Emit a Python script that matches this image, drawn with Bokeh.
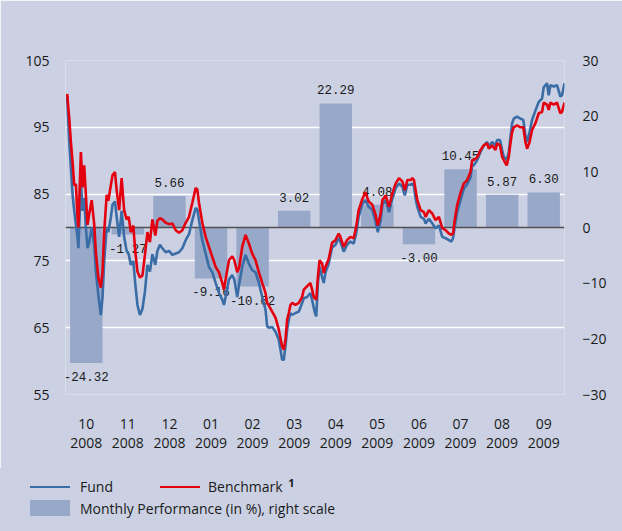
from bokeh.plotting import figure
from bokeh.layouts import column
from bokeh.models import Range1d, LinearAxis, FixedTicker, ColumnDataSource, Div
from bokeh.embed import file_html
from bokeh.resources import INLINE
from bokeh.core.properties import value

# ---------------- data ----------------
months = ["10", "11", "12", "01", "02", "03", "04", "05", "06", "07", "08", "09"]
years = ["2008", "2008", "2008", "2009", "2009", "2009", "2009", "2009", "2009", "2009", "2009", "2009"]
monthly_perf = [-24.32, -1.27, 5.66, -9.16, -10.62, 3.02, 22.29, 4.08, -3.00, 10.45, 5.87, 6.30]

# time position in months since start of Oct 2008
t = [0.04, 0.09, 0.13, 0.17, 0.21, 0.25, 0.29, 0.31, 0.37, 0.41, 0.45, 0.49, 0.53, 0.57, 0.63, 0.69,
     0.73, 0.79, 0.85, 0.89, 0.93, 0.99, 1.03, 1.09, 1.13, 1.19, 1.23, 1.29, 1.35, 1.41, 1.47, 1.52,
     1.57, 1.63, 1.68, 1.73, 1.79, 1.85, 1.91, 1.97, 2.03, 2.09, 2.16, 2.21, 2.27, 2.33, 2.41, 2.49,
     2.57, 2.65, 2.73, 2.81, 2.89, 2.97, 3.05, 3.13, 3.17, 3.21, 3.29, 3.37, 3.45, 3.53, 3.61, 3.69,
     3.77, 3.81, 3.85, 3.93, 4.01, 4.06, 4.13, 4.18, 4.25, 4.33, 4.41, 4.49, 4.57, 4.65, 4.73, 4.81,
     4.85, 4.89, 4.97, 5.05, 5.13, 5.21, 5.25, 5.29, 5.33, 5.37, 5.41, 5.45, 5.53, 5.61, 5.69, 5.73,
     5.81, 5.89, 5.93, 5.97, 6.00, 6.03, 6.07, 6.11, 6.17, 6.21, 6.25, 6.33, 6.41, 6.49, 6.57, 6.61,
     6.69, 6.77, 6.85, 6.93, 6.99, 7.05, 7.13, 7.21, 7.29, 7.38, 7.46, 7.51, 7.58, 7.62, 7.70, 7.78,
     7.86, 7.94, 8.02, 8.10, 8.16, 8.22, 8.30, 8.34, 8.38, 8.42, 8.46, 8.54, 8.62, 8.66, 8.74, 8.82,
     8.90, 8.98, 9.06, 9.14, 9.22, 9.28, 9.32, 9.36, 9.42, 9.50, 9.58, 9.66, 9.74, 9.78, 9.82, 9.90,
     9.98, 10.06, 10.14, 10.18, 10.26, 10.34, 10.38, 10.45, 10.50, 10.54, 10.61, 10.66, 10.70, 10.74,
     10.78, 10.86, 10.94, 11.01, 11.06, 11.10, 11.16, 11.22, 11.30, 11.38, 11.46, 11.50, 11.58, 11.62,
     11.66, 11.74, 11.82, 11.90, 11.94, 12.00]

benchmark = [100.0, 96.3, 92.8, 89.8, 86.3, 86.5, 81.4, 80.0, 91.3, 86.0, 89.3, 84.9, 80.4, 82.0, 84.1, 80.5,
             76.3, 72.5, 71.0, 73.4, 79.3, 84.9, 84.0, 86.3, 87.8, 88.3, 85.6, 82.6, 87.4, 82.6, 81.2, 81.6,
             79.3, 80.3, 76.3, 73.4, 72.5, 72.8, 75.9, 79.3, 77.8, 81.2, 78.8, 81.0, 81.4, 81.2, 80.7, 80.5,
             80.6, 79.6, 79.2, 79.6, 80.7, 81.6, 83.7, 85.9, 85.7, 83.7, 80.7, 78.6, 77.1, 75.6, 74.1, 73.3,
             71.7, 70.7, 72.2, 75.1, 75.7, 75.1, 73.3, 74.1, 77.1, 78.9, 77.6, 76.1, 75.1, 73.3, 71.7, 70.2,
             68.7, 68.3, 67.4, 66.5, 64.7, 62.2, 61.7, 63.2, 66.2, 67.2, 68.4, 68.7, 68.4, 68.7, 69.6, 70.7,
             71.2, 71.7, 70.7, 69.6, 69.4, 69.2, 72.6, 75.1, 74.6, 73.2, 74.1, 75.3, 77.7, 78.1, 79.1, 78.6,
             77.1, 78.1, 78.6, 78.4, 80.1, 82.6, 84.1, 85.3, 83.9, 83.4, 81.8, 80.3, 82.1, 84.1, 84.8, 83.1,
             85.1, 86.6, 87.4, 86.9, 85.6, 87.1, 87.1, 87.4, 87.1, 85.6, 84.1, 82.6, 82.3, 81.6, 82.6, 82.1,
             81.1, 81.6, 79.9, 79.6, 79.1, 78.9, 79.1, 81.1, 83.4, 85.2, 86.6, 87.1, 88.3, 90.1, 90.1, 90.5,
             91.6, 92.3, 92.6, 91.8, 92.3, 91.6, 92.6, 92.3, 90.6, 90.1, 89.3, 90.6, 92.6, 94.3,
             95.0, 95.3, 95.0, 95.0, 92.8, 91.8, 92.8, 94.6, 95.6, 97.1, 97.3, 98.7, 98.4, 97.6,
             98.7, 98.4, 98.7, 97.1, 97.3, 98.7]

fund = [99.6, 92.8, 88.9, 84.9, 82.5, 80.5, 78.5, 76.9, 86.8, 82.5, 84.4, 80.0, 76.9, 77.8, 80.0, 77.4,
        73.4, 69.9, 66.9, 69.5, 74.9, 80.0, 79.3, 81.5, 83.4, 83.9, 81.6, 78.6, 82.5, 78.6, 76.5, 76.0,
        74.4, 75.0, 71.4, 68.4, 66.9, 67.8, 70.4, 74.4, 73.4, 76.0, 74.4, 76.5, 77.4, 76.9, 76.3, 76.5,
        75.9, 76.1, 76.3, 76.9, 78.1, 79.0, 81.1, 82.9, 82.7, 81.1, 78.1, 76.1, 74.1, 73.3, 71.7, 70.2,
        69.2, 68.4, 69.6, 72.2, 72.9, 72.2, 69.6, 71.7, 74.1, 75.9, 74.6, 73.6, 73.3, 71.7, 69.6, 67.7,
        65.2, 65.0, 65.1, 64.4, 63.2, 60.2, 60.2, 62.2, 64.7, 66.2, 67.2, 66.9, 67.2, 67.4, 68.7, 69.4,
        69.6, 70.2, 69.2, 68.0, 67.2, 66.7, 71.7, 74.1, 72.6, 71.7, 73.2, 74.6, 77.0, 77.4, 78.4, 77.9,
        76.4, 77.4, 77.9, 77.6, 79.1, 81.6, 83.4, 84.1, 83.1, 82.6, 80.8, 79.3, 81.1, 83.4, 84.1, 82.3,
        84.3, 85.9, 86.6, 86.1, 84.8, 86.4, 86.4, 86.6, 86.1, 84.3, 83.1, 81.6, 81.3, 80.6, 81.3, 80.6,
        79.9, 80.3, 78.6, 78.4, 78.1, 77.9, 78.4, 80.1, 82.3, 84.1, 85.8, 86.5, 87.5, 89.3, 89.3, 90.1,
        91.3, 92.3, 92.8, 92.1, 92.8, 92.3, 93.1, 93.1, 91.6, 90.6, 90.1, 91.3, 93.5, 95.6,
        96.3, 96.6, 96.3, 96.1, 93.8, 92.8, 94.3, 96.1, 97.5, 98.8, 99.3, 101.0, 101.6, 99.8,
        101.3, 101.1, 101.3, 99.6, 99.8, 101.6]

left_ticks = [55, 65, 75, 85, 95, 105]
right_ticks = [-30, -20, -10, 0, 10, 20, 30]

legend_labels = ["Fund", "Benchmark", "Monthly Performance (in %), right scale"]
benchmark_note = "1"

# ---------------- style ----------------
BG = "#cbd1e3"
BAR = "#97a8c9"
BLUE = "#3a6ca6"
RED = "#e4000f"
TXT = "#1a1a1a"
FONT = "Open Sans"

chart = figure(width=622, height=468, output_backend="svg", toolbar_location=None,
               x_range=Range1d(0, 12), y_range=Range1d(55, 105),
               min_border_left=65, min_border_right=58, min_border_top=60, min_border_bottom=74)
chart.extra_y_ranges = {"perf": Range1d(-30, 30)}
chart.background_fill_color = BG
chart.border_fill_color = BG
chart.outline_line_color = None

chart.xgrid.visible = False
chart.ygrid.ticker = FixedTicker(ticks=left_ticks)
chart.ygrid.grid_line_color = "white"
chart.ygrid.grid_line_width = 1.6

def style_axis(ax):
    ax.axis_line_color = None
    ax.major_tick_line_color = None
    ax.minor_tick_line_color = None
    ax.major_label_text_font = FONT
    ax.major_label_text_font_size = "14px"
    ax.major_label_text_color = TXT

# left axis
chart.yaxis.ticker = FixedTicker(ticks=left_ticks)
style_axis(chart.yaxis[0])
chart.yaxis.major_label_standoff = 10

# right axis
raxis = LinearAxis(y_range_name="perf", ticker=FixedTicker(ticks=right_ticks))
style_axis(raxis)
raxis.major_label_standoff = 12
chart.add_layout(raxis, "right")

# x axis
centers = [i + 0.5 for i in range(len(months))]
chart.xaxis.ticker = FixedTicker(ticks=centers)
chart.xaxis.major_label_overrides = {c: f"{m}\n{y}" for c, m, y in zip(centers, months, years)}
style_axis(chart.xaxis[0])
chart.xaxis.major_label_standoff = 13
chart.xaxis.major_label_text_line_height = 1.05

# bars
chart.vbar(x=centers, top=monthly_perf, bottom=0, width=0.78, y_range_name="perf",
           fill_color=BAR, line_color=None)

# zero line
chart.hspan(y=[0], y_range_name="perf", line_color="#505050", line_width=1.5)

# bar labels
pos = ColumnDataSource(dict(x=[c for c, v in zip(centers, monthly_perf) if v >= 0],
                            y=[v for v in monthly_perf if v >= 0],
                            s=[f"{v:.2f}" for v in monthly_perf if v >= 0]))
neg = ColumnDataSource(dict(x=[c for c, v in zip(centers, monthly_perf) if v < 0],
                            y=[v for v in monthly_perf if v < 0],
                            s=[f"{v:.2f}" for v in monthly_perf if v < 0]))
for src, base, off in ((pos, "bottom", -9), (neg, "top", 9)):
    chart.text(x="x", y="y", text="s", source=src, y_range_name="perf",
               text_align="center", text_baseline=base, y_offset=off,
               text_font=value("Liberation Mono"), text_font_size="12.5px", text_color=TXT)

# lines
chart.line(t, fund, line_color=BLUE, line_width=2.6)
chart.line(t, benchmark, line_color=RED, line_width=2.6)

# ---------------- legend strip (HTML) ----------------
legend_html = f"""
<div style="position:relative;width:622px;height:63px;background:{BG};font-family:'{FONT}',sans-serif;
            font-size:14px;color:{TXT};white-space:nowrap;margin:0;">
  <div style="position:absolute;left:30px;top:18px;width:40px;height:1.5px;background:{BLUE};"></div>
  <div style="position:absolute;left:80px;top:9px;line-height:20px;">{legend_labels[0]}</div>
  <div style="position:absolute;left:160px;top:18px;width:40px;height:1.5px;background:{RED};"></div>
  <div style="position:absolute;left:208px;top:9px;line-height:20px;">{legend_labels[1]}
    <span style="font-size:11px;font-weight:bold;position:relative;top:-5px;margin-left:2px;">{benchmark_note}</span></div>
  <div style="position:absolute;left:30px;top:32px;width:40px;height:16px;background:{BAR};"></div>
  <div style="position:absolute;left:80px;top:31px;line-height:20px;">{legend_labels[2]}</div>
</div>
"""
legend_strip = Div(text=legend_html, width=622, height=63, margin=0,
                   styles={"background-color": BG})

p = column(chart, legend_strip, spacing=0)
open("out.html", "w").write(file_html(p, INLINE))
